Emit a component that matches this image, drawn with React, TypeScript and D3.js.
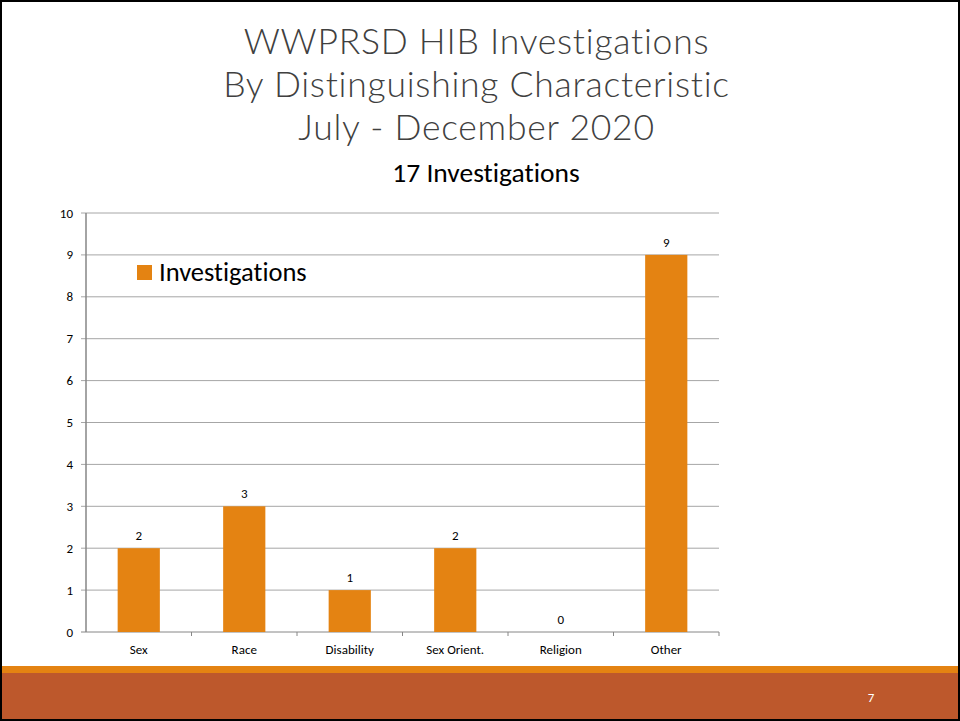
import React from "react";
import * as d3 from "d3";

const categories = ["Sex", "Race", "Disability", "Sex Orient.", "Religion", "Other"];
const values = [2, 3, 1, 2, 0, 9];
const yTicks = [0, 1, 2, 3, 4, 5, 6, 7, 8, 9, 10];
const titleLines = ["WWPRSD HIB Investigations", "By Distinguishing Characteristic", "July - December 2020"];
const subtitle = "17 Investigations";
const seriesName = "Investigations";
const pageNumber = "7";

const W = 960;
const H = 721;
const plot = { left: 86, right: 719, top: 213, bottom: 632 };
const ORANGE = "#E48312";
const RUST = "#BD582C";

export default function App() {
  const x = d3.scaleBand<string>().domain(categories).range([plot.left, plot.right]).paddingInner(0.6).paddingOuter(0.3);
  const band = d3.scaleBand<string>().domain(categories).range([plot.left, plot.right]);
  const y = d3.scaleLinear().domain([0, 10]).range([plot.bottom, plot.top]);
  const font = "Carlito, Calibri, 'Open Sans', sans-serif";
  return (
    <svg width={W} height={H} style={{ position: "absolute", left: 0, top: 0 }}>
      <rect x={0} y={0} width={W} height={H} fill="#fff" />
      {/* title */}
      {titleLines.map((t, i) => (
        <text key={t} x={476.5} y={54 + i * 43} textAnchor="middle" fontFamily="Lato, sans-serif" fontWeight={300} fontSize={35.5} fill="#404040" style={{ letterSpacing: "0.75px" }}>
          {t}
        </text>
      ))}
      <text x={486} y={182} textAnchor="middle" fontFamily={font} fontSize={27.5} fill="#000" style={{ fontVariantLigatures: "none" }}>
        {subtitle}
      </text>
      {/* gridlines */}
      {yTicks.map((t) => (
        <line key={"g" + t} x1={plot.left - 5} x2={plot.right} y1={y(t)} y2={y(t)} stroke={t === 0 ? "#868686" : "#A6A6A6"} strokeWidth={1} />
      ))}
      <line x1={plot.left} x2={plot.left} y1={plot.top} y2={plot.bottom} stroke="#868686" strokeWidth={1.5} />
      {yTicks.map((t) => (
        <text key={"t" + t} x={plot.left - 13} y={y(t) + 4.5} textAnchor="end" fontFamily={font} fontSize={13} fill="#000">
          {t}
        </text>
      ))}
      {/* category ticks */}
      {categories.map((c) => (
        <line key={"ct" + c} x1={band(c)! + band.bandwidth()} x2={band(c)! + band.bandwidth()} y1={plot.bottom} y2={plot.bottom + 4} stroke="#868686" />
      ))}
      {/* bars */}
      {categories.map((c, i) => (
        <g key={c}>
          <rect x={x(c)} y={y(values[i])} width={x.bandwidth()} height={plot.bottom - y(values[i])} fill={ORANGE} />
          <text x={x(c)! + x.bandwidth() / 2} y={y(values[i]) - 8} textAnchor="middle" fontFamily={font} fontSize={13} fill="#000">
            {values[i]}
          </text>
          <text x={band(c)! + band.bandwidth() / 2} y={653.5} textAnchor="middle" fontFamily={font} fontSize={13} fill="#000">
            {c}
          </text>
        </g>
      ))}
      {/* legend */}
      <rect x={137} y={265} width={15} height={15} fill={ORANGE} />
      <text x={159} y={281} fontFamily={font} fontSize={26.5} fill="#000" style={{ fontVariantLigatures: "none" }}>
        {seriesName}
      </text>
      {/* footer */}
      <rect x={0} y={666} width={W} height={7} fill={ORANGE} />
      <rect x={0} y={673} width={W} height={H - 673} fill={RUST} />
      <text x={871} y={702} textAnchor="middle" fontFamily={font} fontSize={13} fill="#fff">
        {pageNumber}
      </text>
      <rect x={1} y={1} width={W - 2} height={H - 2} fill="none" stroke="#000" strokeWidth={2} />
    </svg>
  );
}
